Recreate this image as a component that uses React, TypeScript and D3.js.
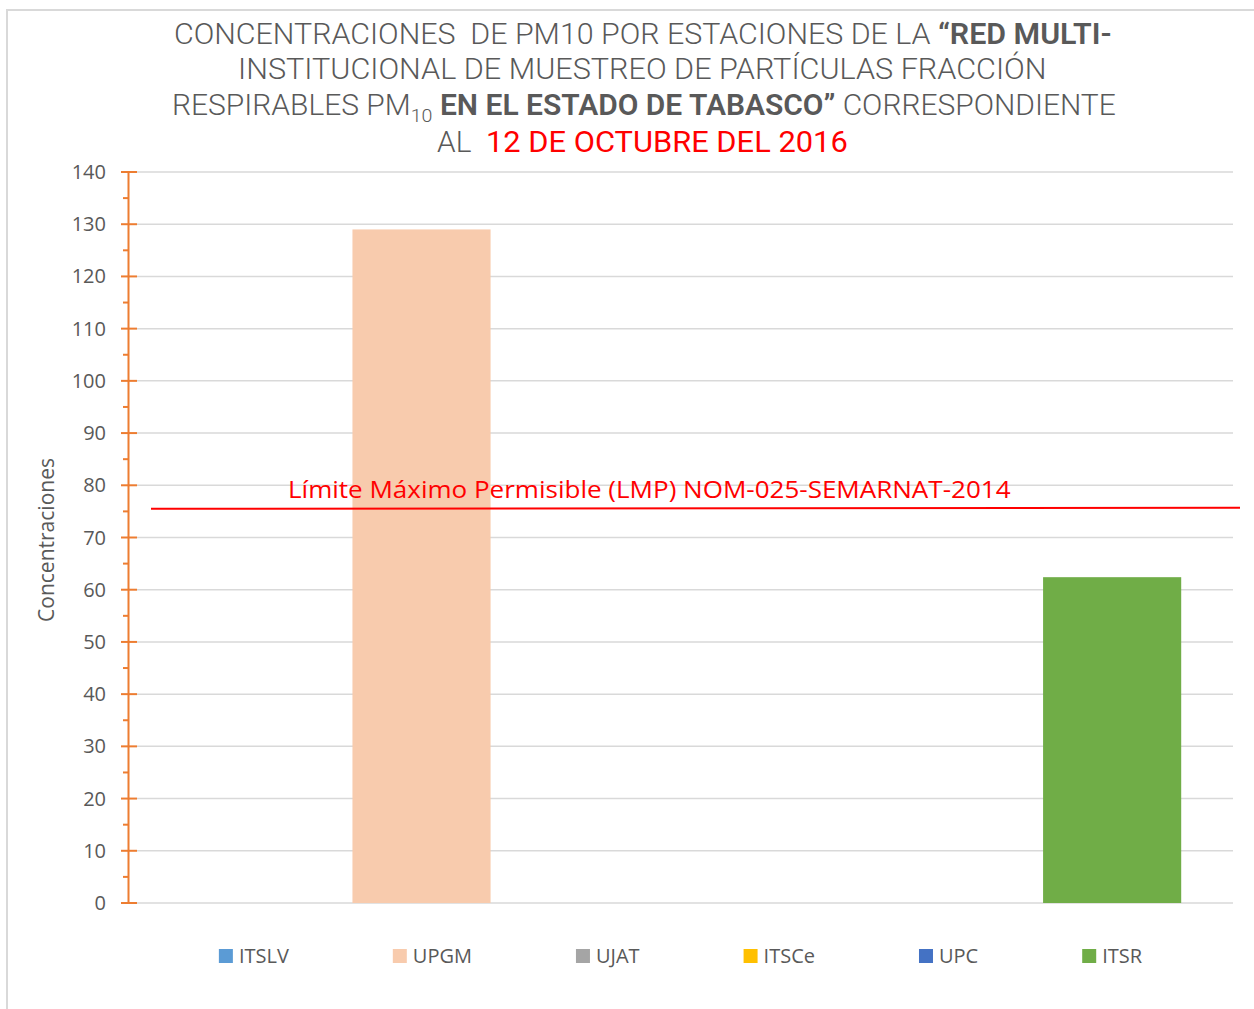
import React, { useEffect, useRef } from 'react';
import * as d3 from 'd3';

const series = ['ITSLV', 'UPGM', 'UJAT', 'ITSCe', 'UPC', 'ITSR'];
const values = [0, 129, 0, 0, 0, 62.4];
const colors = ['#5B9BD5', '#F8CBAD', '#A5A5A5', '#FFC000', '#4472C4', '#70AD47'];
const yTicks = d3.range(0, 141, 10);
const yMinorTicks = d3.range(5, 140, 10);
const lmpValue = 75.5;
const lmpLabel = 'Límite Máximo Permisible (LMP) NOM-025-SEMARNAT-2014';
const yAxisTitle = 'Concentraciones';

type Part = { t: string; bold?: boolean; sub?: boolean; red?: boolean };
const titleLines: Part[][] = [
  [{ t: 'CONCENTRACIONES  DE PM10 POR ESTACIONES DE LA ' }, { t: '“RED MULTI-', bold: true }],
  [{ t: 'INSTITUCIONAL DE MUESTREO DE PARTÍCULAS FRACCIÓN' }],
  [
    { t: 'RESPIRABLES PM' },
    { t: '10', sub: true },
    { t: ' EN EL ESTADO DE TABASCO”', bold: true },
    { t: ' CORRESPONDIENTE' },
  ],
  [{ t: 'AL  ' }, { t: '12 DE OCTUBRE DEL 2016', red: true }],
];

const W = 1254;
const H = 1009;

export default function App() {
  const ref = useRef<SVGSVGElement | null>(null);

  useEffect(() => {
    const svg = d3.select(ref.current);
    svg.selectAll('*').remove();

    const plot = { left: 128, right: 1233, top: 172, bottom: 903 };
    const gray = '#595959';
    const grid = '#d9d9d9';
    const orange = '#ED7D31';
    const red = '#FF0000';

    svg.append('rect').attr('width', W).attr('height', H).attr('fill', '#fff');

    // border
    svg.append('path')
      .attr('d', `M7,${H} L7,10 L${W},10`)
      .attr('fill', 'none').attr('stroke', grid).attr('stroke-width', 2);

    const y = d3.scaleLinear().domain([0, 140]).range([plot.bottom, plot.top]);
    const x = d3.scaleBand<string>().domain(series).range([plot.left, plot.right])
      .paddingInner(0.2).paddingOuter(0.3);

    // gridlines
    svg.append('g').selectAll('line').data(yTicks).join('line')
      .attr('x1', 137).attr('x2', plot.right)
      .attr('y1', d => y(d)).attr('y2', d => y(d))
      .attr('stroke', grid).attr('stroke-width', 1.5);

    // bars
    svg.append('g').selectAll('rect').data(series).join('rect')
      .attr('x', d => x(d)!)
      .attr('width', x.bandwidth())
      .attr('y', (d, i) => y(values[i]))
      .attr('height', (d, i) => y(0) - y(values[i]))
      .attr('fill', (d, i) => colors[i]);

    // axis
    const ax = svg.append('g');
    ax.append('line').attr('x1', 128.5).attr('x2', 128.5)
      .attr('y1', y(140)).attr('y2', y(0))
      .attr('stroke', orange).attr('stroke-width', 2);
    ax.selectAll('line.maj').data(yTicks).join('line').attr('class', 'maj')
      .attr('x1', 121).attr('x2', 137)
      .attr('y1', d => y(d)).attr('y2', d => y(d))
      .attr('stroke', orange).attr('stroke-width', 2);
    ax.selectAll('line.min').data(yMinorTicks).join('line').attr('class', 'min')
      .attr('x1', 123).attr('x2', 129)
      .attr('y1', d => y(d)).attr('y2', d => y(d))
      .attr('stroke', orange).attr('stroke-width', 2);
    ax.selectAll('text').data(yTicks).join('text')
      .attr('x', 106).attr('y', d => y(d))
      .attr('dy', '0.35em')
      .attr('text-anchor', 'end')
      .attr('font-family', '"Open Sans", sans-serif')
      .attr('font-size', 20)
      .attr('fill', gray)
      .text(d => String(d));

    // y axis title
    svg.append('text')
      .attr('transform', `translate(54,${(452 + 628) / 2}) rotate(-90)`)
      .attr('text-anchor', 'middle')
      .attr('font-family', '"Open Sans", sans-serif')
      .attr('font-size', 21)
      .attr('fill', gray)
      .text(yAxisTitle);

    // LMP line
    svg.append('line')
      .attr('x1', 151).attr('x2', 1240)
      .attr('y1', y(lmpValue)).attr('y2', y(lmpValue) - 1)
      .attr('stroke', red).attr('stroke-width', 2);

    const fit = (t: d3.Selection<SVGTextElement, unknown, null, undefined>, left: number, right: number, baseline: number) => {
      const w = (t.node() as SVGTextElement).getBBox().width;
      const s = (right - left) / w;
      t.attr('transform', `translate(${left},${baseline}) scale(${s},1)`);
    };

    const lmpText = svg.append('text')
      .attr('x', 0).attr('y', 0)
      .attr('font-family', '"Open Sans", sans-serif')
      .attr('font-size', 23)
      .attr('fill', red)
      .text(lmpLabel);
    fit(lmpText, 288, 1011, 498);

    // title
    const lineBounds = [
      [174, 1112, 44],
      [238, 1047, 79],
      [172, 1116, 115],
      [437, 848, 152],
    ];
    titleLines.forEach((parts, li) => {
      const t = svg.append('text')
        .attr('x', 0).attr('y', 0)
        .attr('font-family', 'Roboto, sans-serif')
        .attr('font-size', 29)
        .attr('fill', gray)
        .style('white-space', 'pre');
      let shifted = false;
      parts.forEach(p => {
        const ts = t.append('tspan').text(p.t)
          .attr('font-weight', p.bold ? 600 : p.red ? 400 : 300);
        if (p.red) ts.attr('fill', red).attr('font-size', 30);
        if (p.sub) { ts.attr('font-size', 19).attr('dy', 7); shifted = true; }
        else if (shifted) { ts.attr('dy', -7); shifted = false; }
      });
      const [l, r, b] = lineBounds[li];
      fit(t, l, r, b);
    });

    // legend
    const lg = svg.append('g');
    const items = series.map((s, i) => {
      const g = lg.append('g');
      g.append('rect').attr('x', 0).attr('y', -14).attr('width', 14).attr('height', 14).attr('fill', colors[i]);
      const tx = g.append('text').attr('x', 20).attr('y', 0)
        .attr('font-family', '"Open Sans", sans-serif')
        .attr('font-size', 20).attr('fill', gray).text(s);
      const w = 20 + (tx.node() as SVGTextElement).getComputedTextLength();
      return { g, w };
    });
    const gap = 104;
    const total = d3.sum(items, d => d.w) + gap * (items.length - 1);
    let cx = (plot.left + plot.right) / 2 - total / 2;
    items.forEach(it => {
      it.g.attr('transform', `translate(${cx},963)`);
      cx += it.w + gap;
    });
  }, []);

  return (
    <svg ref={ref} width={W} height={H}
      style={{ position: 'absolute', left: 0, top: 0, display: 'block' }} />
  );
}
